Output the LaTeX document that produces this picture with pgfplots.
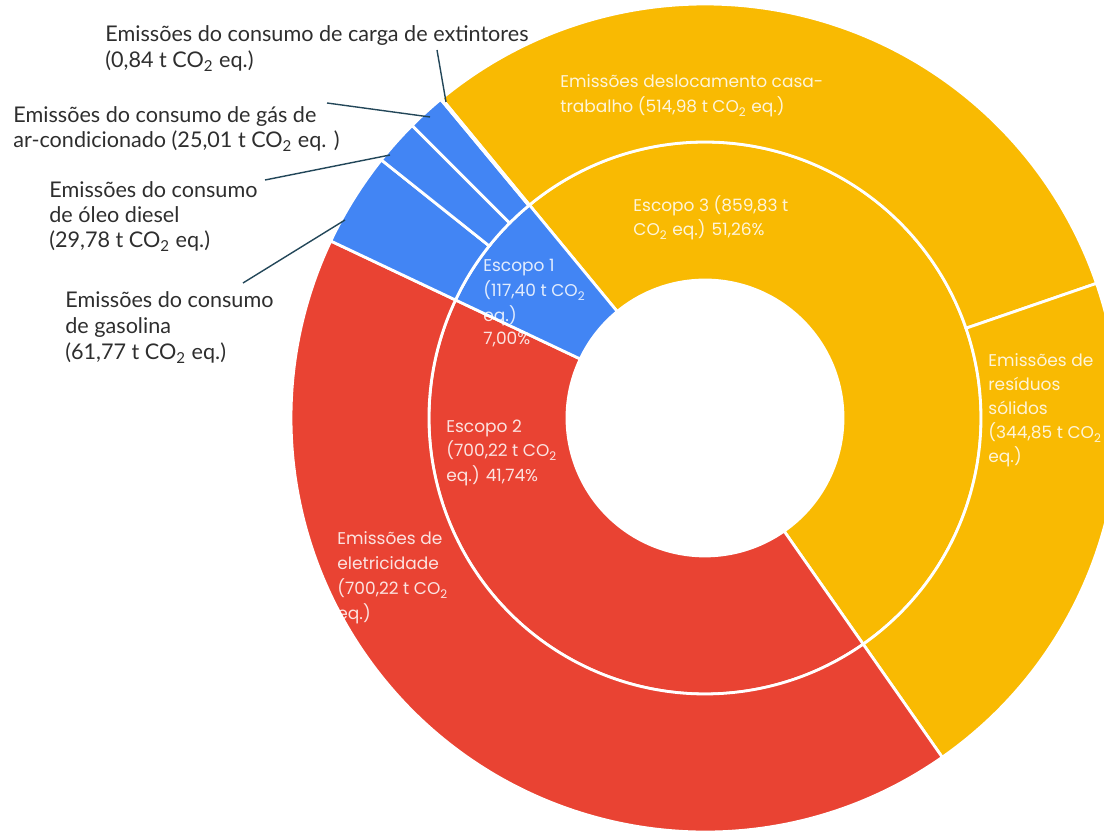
\documentclass[border=0pt]{standalone}
\usepackage{pgfplots}
\pgfplotsset{compat=1.18}
\usepackage{fontspec}
\setmainfont{Lato}
\newfontfamily\pop{Poppins}
\definecolor{gy}{HTML}{F9BA02}
\definecolor{gr}{HTML}{E94333}
\definecolor{gb}{HTML}{4285F4}
\definecolor{lead}{HTML}{234759}
\definecolor{lab}{HTML}{2E2E2E}
\pgfmathsetmacro\dpu{360/1677.45}
\def\wlast{129.5}
% inner radius, outer radius, start angle, value, colour
\newcommand\sbwedge[5]{%
  \pgfmathsetmacro\wend{#3-#4*\dpu}%
  \edef\tmp{\noexpand\fill[#5, draw=white, line width=1.4pt]
    ([shift={(#3:#2)}]C) arc[start angle=#3, end angle=\wend, radius=#2]
    -- ([shift={(\wend:#1)}]C) arc[start angle=\wend, end angle=#3, radius=#1] -- cycle;}%
  \tmp
  \xdef\wlast{\wend}%
}
\newcommand\olab[3]{\node[anchor=base west, inner sep=0pt, text=lab, font=\fontsize{10.8}{13}\selectfont] at (axis cs:#1,#2) {#3};}
\newcommand\ilab[3]{\node[anchor=base west, inner sep=0pt, text=white, text opacity=0.85, font=\pop\fontsize{8.5}{10}\selectfont] at (axis cs:#1,#2) {#3};}
\newcommand\COt{CO\textsubscript{2}}
\begin{document}
\begin{tikzpicture}
\begin{axis}[width=552pt, height=417pt, scale only axis,
  xmin=0, xmax=1104, ymin=0, ymax=834, hide axis, clip=true]
\clip (axis cs:0,0) rectangle (axis cs:1104,834);
\coordinate (C) at (axis cs:705,416);
% inner ring: Escopo 3, Escopo 2, Escopo 1
\gdef\wlast{129.5}
\sbwedge{69pt}{138pt}{\wlast}{859.83}{gy}
\sbwedge{69pt}{138pt}{\wlast}{700.22}{gr}
\sbwedge{69pt}{138pt}{\wlast}{117.40}{gb}
% outer ring
\gdef\wlast{129.5}
\sbwedge{138pt}{207pt}{\wlast}{514.98}{gy}
\sbwedge{138pt}{207pt}{\wlast}{344.85}{gy}
\sbwedge{138pt}{207pt}{\wlast}{700.22}{gr}
\sbwedge{138pt}{207pt}{\wlast}{61.77}{gb}
\sbwedge{138pt}{207pt}{\wlast}{29.78}{gb}
\sbwedge{138pt}{207pt}{\wlast}{25.01}{gb}
\sbwedge{138pt}{207pt}{\wlast}{0.84}{gb}
% leader lines
\draw[lead, line width=0.7pt] (axis cs:437,784) -- (axis cs:446,732);
\draw[lead, line width=0.7pt] (axis cs:327,731) -- (axis cs:430,717);
\draw[lead, line width=0.7pt] (axis cs:265,654) -- (axis cs:390,679);
\draw[lead, line width=0.7pt] (axis cs:243,551) -- (axis cs:345,614);
% outer labels
\olab{105}{792}{Emissões do consumo de carga de extintores}
\olab{105}{766}{(0,84 t \COt\ eq.)}
\olab{13}{711}{Emissões do consumo de gás de}
\olab{13}{686}{ar-condicionado (25,01 t \COt\ eq. )}
\olab{49}{636}{Emissões do consumo}
\olab{49}{611}{de óleo diesel}
\olab{49}{586}{(29,78 t \COt\ eq.)}
\olab{65}{526}{Emissões do consumo}
\olab{65}{500}{de gasolina}
\olab{65}{474}{(61,77 t \COt\ eq.)}
% inner labels
\ilab{560}{746}{Emissões deslocamento casa-}
\ilab{560}{721}{trabalho (514,98 t \COt\ eq.)}
\ilab{633}{622}{Escopo 3 (859,83 t}
\ilab{633}{598}{\COt\ eq.) 51,26\%}
\ilab{483}{562}{Escopo 1}
\ilab{483}{537}{(117,40 t \COt}
\ilab{483}{512}{eq.)}
\ilab{483}{489}{7,00\%}
\ilab{446}{401}{Escopo 2}
\ilab{446}{377}{(700,22 t \COt}
\ilab{446}{352}{eq.) 41,74\%}
\ilab{337}{289}{Emissões de}
\ilab{337}{264}{eletricidade}
\ilab{337}{239}{(700,22 t \COt}
\ilab{337}{214}{eq.)}
\ilab{988}{467}{Emissões de}
\ilab{988}{443}{resíduos}
\ilab{988}{419}{sólidos}
\ilab{988}{395}{(344,85 t \COt}
\ilab{988}{371}{eq.)}
\end{axis}
\pgfresetboundingbox
\path[use as bounding box] (current axis.south west) rectangle (current axis.north east);
\end{tikzpicture}
\end{document}
